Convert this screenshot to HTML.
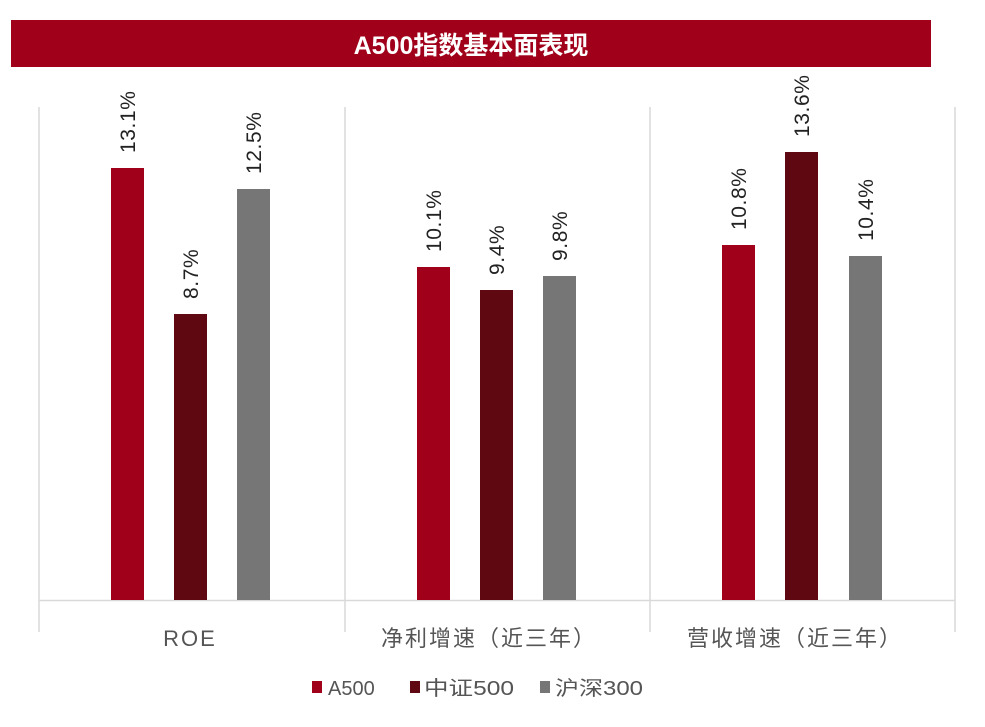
<!DOCTYPE html>
<html><head><meta charset="utf-8"><style>
body{margin:0;background:#fff;}
svg{display:block;font-family:"Liberation Sans","Noto Sans CJK SC",sans-serif;}
</style></head><body>
<svg width="985" height="727" viewBox="0 0 985 727">
<rect x="11" y="20" width="920" height="47" fill="#a0001a"/>
<text x="471" y="54" text-anchor="middle" fill="#fff" font-size="25" font-weight="bold">A500指数基本面表现</text>
<g stroke="#d9d9d9" stroke-width="1.5">
<line x1="39" y1="107" x2="39" y2="632"/>
<line x1="345" y1="107" x2="345" y2="632"/>
<line x1="650" y1="107" x2="650" y2="632"/>
<line x1="955" y1="107" x2="955" y2="632"/>
<line x1="39" y1="600.5" x2="955" y2="600.5"/>
</g>
<g>
<rect x="111" y="168" width="33" height="432" fill="#a0001a"/>
<rect x="174" y="314" width="33" height="286" fill="#600811"/>
<rect x="237" y="189" width="33" height="411" fill="#767676"/>
<rect x="417" y="267" width="33" height="333" fill="#a0001a"/>
<rect x="480" y="290" width="33" height="310" fill="#600811"/>
<rect x="543" y="276" width="33" height="324" fill="#767676"/>
<rect x="722" y="245" width="33" height="355" fill="#a0001a"/>
<rect x="785" y="152" width="33" height="448" fill="#600811"/>
<rect x="849" y="256" width="33" height="344" fill="#767676"/>
</g>
<g font-size="21" fill="#222" letter-spacing="0.6">
<text transform="translate(135,153) rotate(-90)">13.1%</text>
<text transform="translate(198,299) rotate(-90)">8.7%</text>
<text transform="translate(261,174) rotate(-90)">12.5%</text>
<text transform="translate(441,252) rotate(-90)">10.1%</text>
<text transform="translate(504,275) rotate(-90)">9.4%</text>
<text transform="translate(567,261) rotate(-90)">9.8%</text>
<text transform="translate(746,230) rotate(-90)">10.8%</text>
<text transform="translate(809,137) rotate(-90)">13.6%</text>
<text transform="translate(873,241) rotate(-90)">10.4%</text>
</g>
<g font-size="22" fill="#555" text-anchor="middle">
<text x="190" y="646" letter-spacing="2">ROE</text>
<text x="489" y="646" letter-spacing="2">净利增速（近三年）</text>
<text x="795" y="646" letter-spacing="2">营收增速（近三年）</text>
</g>
<g font-size="20" fill="#555">
<rect x="312" y="681" width="10" height="12" fill="#a0001a"/>
<text x="328" y="695">A500</text>
<rect x="410" y="681" width="10" height="12" fill="#600811"/>
<text x="424" y="695" textLength="90" lengthAdjust="spacingAndGlyphs">中证500</text>
<rect x="540" y="681" width="10" height="12" fill="#767676"/>
<text x="555" y="695" textLength="88" lengthAdjust="spacingAndGlyphs">沪深300</text>
</g>
</svg>
</body></html>
